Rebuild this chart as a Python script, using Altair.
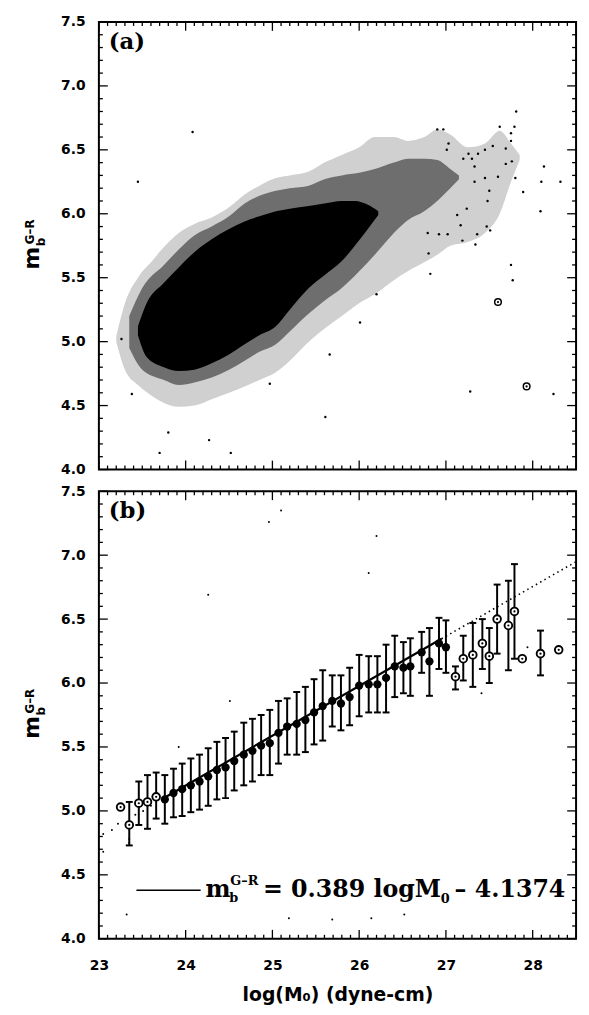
import altair as alt
import pandas as pd

# ---------------- data ----------------
# Panel (b): binned means with error bars (None = no bar)
b_x = [23.25, 23.35, 23.46, 23.56, 23.66, 23.76, 23.86, 23.96, 24.06, 24.16,
       24.26, 24.36, 24.46, 24.56, 24.67, 24.77, 24.87, 24.97, 25.07, 25.17,
       25.28, 25.38, 25.48, 25.58, 25.69, 25.79, 25.89, 26.00, 26.11, 26.21,
       26.31, 26.41, 26.51, 26.59, 26.72, 26.81, 26.92, 27.00, 27.11, 27.20,
       27.31, 27.42, 27.50, 27.59, 27.72, 27.79, 27.88, 28.09, 28.30]
b_y = [5.03, 4.89, 5.06, 5.07, 5.11, 5.09, 5.14, 5.17, 5.20, 5.23,
       5.27, 5.32, 5.34, 5.39, 5.44, 5.47, 5.51, 5.53, 5.61, 5.66,
       5.68, 5.71, 5.77, 5.82, 5.86, 5.84, 5.89, 5.98, 5.99, 5.99,
       6.04, 6.13, 6.12, 6.13, 6.24, 6.17, 6.31, 6.28, 6.05, 6.19,
       6.22, 6.31, 6.21, 6.50, 6.45, 6.56, 6.19, 6.23, 6.26]
b_lo = [None, 4.73, 4.89, 4.86, 4.94, 4.90, 4.95, 4.96, 4.99, 5.01,
        5.04, 5.09, 5.10, 5.16, 5.20, 5.23, 5.28, 5.28, 5.37, 5.44,
        5.44, 5.46, 5.52, 5.55, 5.66, 5.63, 5.67, 5.74, 5.77, 5.77,
        5.77, 5.89, 5.92, 5.90, 6.08, 5.90, 6.11, 6.08, 5.95, 6.02,
        5.97, 6.11, 6.00, 6.23, 6.10, 6.19, None, 6.06, None]
b_hi = [None, 5.07, 5.23, 5.28, 5.30, 5.28, 5.33, 5.37, 5.41, 5.44,
        5.49, 5.54, 5.57, 5.62, 5.69, 5.72, 5.75, 5.79, 5.86, 5.88,
        5.93, 5.97, 6.03, 6.10, 6.06, 6.06, 6.12, 6.22, 6.21, 6.21,
        6.30, 6.37, 6.32, 6.35, 6.40, 6.43, 6.51, 6.49, 6.13, 6.37,
        6.47, 6.50, 6.43, 6.77, 6.80, 6.93, None, 6.41, None]
b_open = [1, 1, 1, 1, 1, 0, 0, 0, 0, 0,
          0, 0, 0, 0, 0, 0, 0, 0, 0, 0,
          0, 0, 0, 0, 0, 0, 0, 0, 0, 0,
          0, 0, 0, 0, 0, 0, 0, 0, 1, 1,
          1, 1, 1, 1, 1, 1, 1, 1, 1]

# Fit shown in legend
fit_slope = 0.389
fit_intercept = -4.1374
fit_solid_x = [23.76, 26.95]
fit_dotted_x = [26.95, 28.5]

# Stray dots in panel (b)
bdots_x = [24.51, 23.92, 26.20, 26.11, 27.41, 27.94, 25.10, 24.96, 24.26, 23.32,
           25.19, 25.69, 26.14, 26.52, 23.15, 23.05, 23.05, 23.22, 23.42, 23.51,
           23.60, 23.35, 23.35]
bdots_y = [5.86, 5.50, 7.15, 6.86, 5.92, 6.28, 7.35, 7.26, 6.69, 4.19,
           4.16, 4.15, 4.16, 4.19, 4.85, 4.82, 4.68, 4.90, 4.97, 5.00,
           5.04, 4.78, 4.75]

# Panel (a): scatter cloud, read as density envelopes per log(M0)
outer_x = [23.2, 23.3, 23.45, 23.6, 23.75, 23.92, 24.1, 24.3, 24.5, 24.68, 24.85,
           25.04, 25.2, 25.42, 25.6, 25.8, 26.0, 26.18, 26.4, 26.56, 26.75, 26.9,
           27.05, 27.25, 27.45, 27.62, 27.75, 27.85]
outer_lo = [5.0, 4.78, 4.66, 4.58, 4.52, 4.49, 4.5, 4.55, 4.6, 4.65, 4.7,
            4.76, 4.85, 5.0, 5.1, 5.2, 5.3, 5.37, 5.48, 5.55, 5.62, 5.68,
            5.75, 5.78, 5.85, 6.0, 6.25, 6.42]
outer_hi = [5.04, 5.3, 5.5, 5.62, 5.74, 5.85, 5.92, 5.97, 6.05, 6.15, 6.22,
            6.28, 6.3, 6.33, 6.4, 6.46, 6.52, 6.6, 6.6, 6.57, 6.6, 6.66,
            6.62, 6.52, 6.55, 6.65, 6.55, 6.46]
mid_x = [23.35, 23.5, 23.75, 23.92, 24.1, 24.3, 24.5, 24.68, 24.85, 25.04, 25.2,
         25.42, 25.6, 25.8, 26.0, 26.18, 26.4, 26.56, 26.75, 26.9, 27.05, 27.15]
mid_lo = [4.95, 4.78, 4.7, 4.66, 4.68, 4.72, 4.78, 4.85, 4.92, 4.98, 5.08,
          5.22, 5.32, 5.42, 5.55, 5.68, 5.85, 5.95, 6.02, 6.1, 6.2, 6.27]
mid_hi = [5.2, 5.42, 5.6, 5.72, 5.83, 5.9, 5.98, 6.08, 6.14, 6.18, 6.2,
          6.22, 6.27, 6.3, 6.32, 6.35, 6.4, 6.43, 6.43, 6.42, 6.35, 6.3]
core_x = [23.45, 23.55, 23.75, 23.92, 24.1, 24.3, 24.5, 24.68, 24.85, 25.04, 25.2,
          25.42, 25.6, 25.8, 25.95, 26.1, 26.22]
core_lo = [5.05, 4.88, 4.8, 4.77, 4.78, 4.83, 4.9, 4.98, 5.05, 5.12, 5.25,
           5.42, 5.52, 5.63, 5.75, 5.88, 5.99]
core_hi = [5.12, 5.3, 5.46, 5.58, 5.7, 5.8, 5.88, 5.94, 5.98, 6.02, 6.04,
           6.06, 6.08, 6.1, 6.1, 6.07, 6.02]

# isolated points of panel (a)
adots_x = [27.81, 27.62, 27.79, 27.75, 27.75, 27.69, 27.76, 27.69, 28.13, 27.80,
           28.10, 28.32, 27.89, 28.09, 27.75, 27.77, 26.82, 26.80, 28.24, 27.28,
           27.54, 27.48, 27.36, 27.34, 27.19, 27.47, 27.51, 27.17, 27.02, 26.92,
           26.79, 27.13, 27.24, 27.33, 27.45, 27.60, 27.50, 27.26, 27.37, 27.45,
           26.90, 26.97, 27.03, 27.01, 27.33, 27.20, 27.30, 23.45, 23.80, 24.27,
           23.70, 24.52, 23.38, 23.26, 24.08, 26.20, 26.01, 24.97, 25.66, 25.61]
adots_y = [6.80, 6.68, 6.68, 6.63, 6.57, 6.51, 6.41, 6.39, 6.37, 6.28,
           6.25, 6.25, 6.17, 6.02, 5.60, 5.48, 5.53, 5.69, 4.59, 4.61,
           6.53, 6.10, 5.84, 5.76, 5.79, 5.90, 5.87, 5.91, 5.84, 5.84,
           5.85, 5.99, 6.04, 6.25, 6.28, 6.29, 6.18, 6.47, 6.47, 6.50,
           6.66, 6.66, 6.55, 6.50, 6.37, 6.43, 6.43, 6.25, 4.29, 4.23,
           4.13, 4.13, 4.59, 5.02, 6.64, 5.37, 5.15, 4.67, 4.90, 4.41]
acirc_x = [27.60, 27.93]
acirc_y = [5.31, 4.65]

y_tick_labels = [4.0, 4.5, 5.0, 5.5, 6.0, 6.5, 7.0, 7.5]
x_tick_labels = [23, 24, 25, 26, 27, 28]

# ---------------- layout ----------------
X0, X1 = 23.0, 28.5
Y0, Y1 = 4.0, 7.5
W, H = 483, 453
SANS = "DejaVu Sans"
SERIF = "DejaVu Serif"

xscale = alt.Scale(domain=[X0, X1], nice=False, zero=False)
yscale = alt.Scale(domain=[Y0, Y1], nice=False, zero=False)

y_axis = alt.Axis(values=y_tick_labels, format=".1f", ticks=False, domain=False,
                  grid=False, labelPadding=14, labelFlush=False, labelOverlap=False, title=None,
                  labelFont=SANS, labelFontWeight="bold", labelFontSize=14, labelColor="black")
x_axis_b = alt.Axis(values=x_tick_labels, format="d", ticks=False, domain=False,
                    grid=False, labelPadding=20, labelFlush=False, labelOverlap=False,
                    title="log(M\u2080) (dyne-cm)", titlePadding=13, titleFont=SANS,
                    titleFontWeight="bold", titleFontSize=19, titleColor="black",
                    labelFont=SANS, labelFontWeight="bold", labelFontSize=14, labelColor="black")


def make_enc(x_axis):
    def X(f):
        if x_axis is None:
            return alt.X(f, type="quantitative", scale=xscale, axis=None)
        return alt.X(f, type="quantitative", scale=xscale, axis=x_axis)

    def Y(f):
        return alt.Y(f, type="quantitative", scale=yscale, axis=y_axis)
    return X, Y


def txt(s, x, y, size, font, weight="bold", align="left", baseline="alphabetic", angle=0):
    return alt.Chart(pd.DataFrame({"t": [s]})).mark_text(
        align=align, baseline=baseline, fontSize=size, font=font, fontWeight=weight,
        angle=angle, color="black").encode(text="t:N", x=alt.value(x), y=alt.value(y))


def tick_layers(X, Y):
    ymin = [round(Y0 + 0.1 * i, 2) for i in range(36)]
    ymaj = [v for v in ymin if abs(v * 2 - round(v * 2)) < 1e-6]
    ymin = [v for v in ymin if v not in ymaj]
    xmin = [round(X0 + 0.1 * i, 2) for i in range(56)]
    xmaj = [v for v in xmin if abs(v - round(v)) < 1e-6]
    xmin = [v for v in xmin if v not in xmaj]
    out = []
    for vals, L in ((ymin, 4), (ymaj, 9)):
        d = pd.DataFrame({"v": vals})
        out.append(alt.Chart(d).mark_rule(color="black", strokeWidth=1.3).encode(
            y=Y("v"), x=alt.value(0), x2=alt.value(L)))
        out.append(alt.Chart(d).mark_rule(color="black", strokeWidth=1.3).encode(
            y=Y("v"), x=alt.value(W), x2=alt.value(W - L)))
    for vals, L in ((xmin, 4), (xmaj, 9)):
        d = pd.DataFrame({"v": vals})
        out.append(alt.Chart(d).mark_rule(color="black", strokeWidth=1.3).encode(
            x=X("v"), y=alt.value(0), y2=alt.value(L)))
        out.append(alt.Chart(d).mark_rule(color="black", strokeWidth=1.3).encode(
            x=X("v"), y=alt.value(H), y2=alt.value(H - L)))
    return out


def ytitle():
    return [
        txt("m", -61, 239, 22, SANS, align="center", angle=270),
        txt("b", -55, 227, 12, SANS, align="left", angle=270),
        txt("G\u2013R", -66, 225, 12, SANS, align="left", angle=270),
    ]


# ---------------- panel (a) ----------------
Xa, Ya = make_enc(None)
outer = alt.Chart(pd.DataFrame({"x": outer_x, "lo": outer_lo, "hi": outer_hi})).mark_area(
    color="#d0d0d0", interpolate="monotone").encode(x=Xa("x"), y=Ya("lo"), y2="hi")
mid = alt.Chart(pd.DataFrame({"x": mid_x, "lo": mid_lo, "hi": mid_hi})).mark_area(
    color="#6e6e6e", interpolate="monotone").encode(x=Xa("x"), y=Ya("lo"), y2="hi")
core = alt.Chart(pd.DataFrame({"x": core_x, "lo": core_lo, "hi": core_hi})).mark_area(
    color="#000000", interpolate="monotone").encode(x=Xa("x"), y=Ya("lo"), y2="hi")
adots = alt.Chart(pd.DataFrame({"x": adots_x, "y": adots_y})).mark_circle(
    color="black", size=6, opacity=1).encode(x=Xa("x"), y=Ya("y"))
acirc_df = pd.DataFrame({"x": acirc_x, "y": acirc_y})
acirc = alt.Chart(acirc_df).mark_point(shape="circle", filled=True, fill="white", stroke="black",
                                       strokeWidth=1.5, size=45, opacity=1).encode(x=Xa("x"), y=Ya("y"))
acirc_c = alt.Chart(acirc_df).mark_circle(color="black", size=5, opacity=1).encode(x=Xa("x"), y=Ya("y"))

panel_a = alt.layer(
    outer, mid, core, adots, acirc, acirc_c, *tick_layers(Xa, Ya),
    txt("(a)", 10, 9, 23, SERIF, baseline="top"), *ytitle()
).properties(width=W, height=H)

# ---------------- panel (b) ----------------
Xb, Yb = make_enc(x_axis_b)
bdf = pd.DataFrame({"x": b_x, "y": b_y, "lo": b_lo, "hi": b_hi, "open": b_open})
ebdf = bdf.dropna(subset=["lo"])
bdots = alt.Chart(pd.DataFrame({"x": bdots_x, "y": bdots_y})).mark_circle(
    color="black", size=4, opacity=1).encode(x=Xb("x"), y=Yb("y"))
ebar = alt.Chart(ebdf).mark_rule(color="black", strokeWidth=2).encode(x=Xb("x"), y=Yb("lo"), y2="hi")
cap_lo = alt.Chart(ebdf).mark_tick(color="black", orient="horizontal", size=7, thickness=2,
                                   opacity=1).encode(x=Xb("x"), y=Yb("lo"))
cap_hi = alt.Chart(ebdf).mark_tick(color="black", orient="horizontal", size=7, thickness=2,
                                   opacity=1).encode(x=Xb("x"), y=Yb("hi"))
fit_s = alt.Chart(pd.DataFrame({"x": fit_solid_x,
                                "y": [fit_slope * v + fit_intercept for v in fit_solid_x]})).mark_line(
    color="black", strokeWidth=2.2).encode(x=Xb("x"), y=Yb("y"))
fit_d = alt.Chart(pd.DataFrame({"x": fit_dotted_x,
                                "y": [fit_slope * v + fit_intercept for v in fit_dotted_x]})).mark_line(
    color="black", strokeWidth=1.6, strokeDash=[1.5, 3.5]).encode(x=Xb("x"), y=Yb("y"))
filled = alt.Chart(bdf[bdf["open"] == 0]).mark_circle(color="black", size=70, opacity=1).encode(
    x=Xb("x"), y=Yb("y"))
opn_df = bdf[bdf["open"] == 1]
opn = alt.Chart(opn_df).mark_point(shape="circle", filled=True, fill="white", stroke="black",
                                   strokeWidth=1.9, size=60, opacity=1).encode(x=Xb("x"), y=Yb("y"))
opn_c = alt.Chart(opn_df).mark_circle(color="black", size=5, opacity=1).encode(x=Xb("x"), y=Yb("y"))

legend_line = alt.Chart(pd.DataFrame({"a": [0]})).mark_rule(color="black", strokeWidth=1.5).encode(
    x=alt.value(38), x2=alt.value(103), y=alt.value(404))
legend_txt = [
    txt("m", 108, 411, 24, SERIF),
    txt("b", 132, 416, 13, SERIF),
    txt("G\u2013R", 133, 399, 13, SERIF),
    txt("= 0.389 logM", 166, 411, 24, SERIF),
    txt("0", 346, 417, 13, SERIF),
    txt("\u2013 4.1374", 360, 411, 24, SERIF),
]

panel_b = alt.layer(
    bdots, ebar, cap_lo, cap_hi, fit_s, fit_d, filled, opn, opn_c, *tick_layers(Xb, Yb),
    txt("(b)", 10, 9, 23, SERIF, baseline="top"), *ytitle(), legend_line, *legend_txt
).properties(width=W, height=H)

chart = alt.vconcat(panel_a, panel_b, spacing=6).properties(
    padding={"left": 12, "top": 0, "right": 0, "bottom": 2}
).configure(background="white").configure_view(stroke="black", strokeWidth=2)

chart.save("out.html", embed_options={"renderer": "svg", "actions": False})
